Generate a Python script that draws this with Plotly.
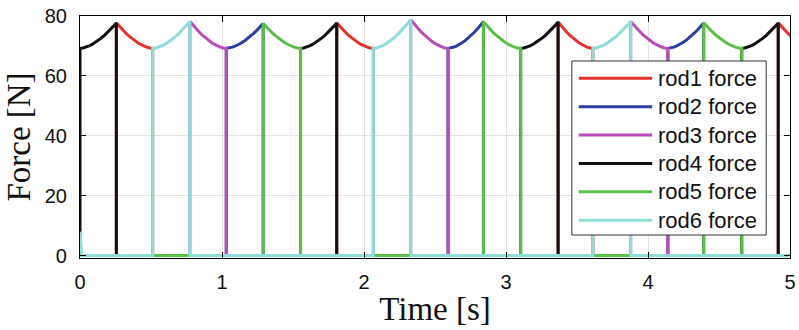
import plotly.graph_objects as go

# ---------------- data ----------------
rod_names = ["rod1 force", "rod2 force", "rod3 force", "rod4 force", "rod5 force", "rod6 force"]
rod_colors = ["#E2322A", "#2B3FA0", "#BA4CB9", "#111111", "#5BBF47", "#8EDDD8"]

# times where the load passes from one rod to the next [s]
seg_bounds = [0.0, 0.256, 0.512, 0.774, 1.030, 1.290, 1.553, 1.808, 2.066, 2.329,
              2.592, 2.841, 3.103, 3.367, 3.612, 3.878, 4.140, 4.392, 4.660, 4.917, 5.175]
# which rod (1..6) carries the load in each interval
seg_rod = [4, 1, 6, 3, 2, 5, 4, 1, 6, 3, 2, 5, 4, 1, 6, 3, 2, 5, 4, 1]
# whether the force rises to a peak or falls from it in each interval
seg_kind = ["rise", "fall"] * 10
# peak forces [N] (one per rise/fall pair)
peak_values = [77.7, 78.2, 77.5, 77.7, 78.8, 78.1, 78.0, 78.2, 77.7, 77.7]
# force at the hand-over between a falling and a rising rod [N]
base_value = 69.2
# shape of a falling interval, as fraction of (peak - base), read at 13 even steps
fall_profile = [1.0, 0.862, 0.733, 0.613, 0.502, 0.400, 0.308, 0.226, 0.154, 0.095, 0.048, 0.015, 0.0]
# short start-up transient of rod6
spike_t = [0.0, 0.012]
spike_v = [8.0, 0.0]
t_end = 5.2

x_ticks = [0, 1, 2, 3, 4, 5]
y_ticks = [0, 20, 40, 60, 80]

# ---------------- build the series ----------------
series = {r: ([], []) for r in range(1, 7)}
for r in range(1, 7):
    if r == 6:
        series[r][0].extend(spike_t)
        series[r][1].extend(spike_v)
    else:
        series[r][0].append(0.0)
        series[r][1].append(0.0)

n = len(fall_profile)
for i, rod in enumerate(seg_rod):
    t0, t1 = seg_bounds[i], seg_bounds[i + 1]
    peak = peak_values[i // 2]
    prof = fall_profile if seg_kind[i] == "fall" else fall_profile[::-1]
    xs, ys = series[rod]
    xs.append(t0); ys.append(0.0)
    for k, f in enumerate(prof):
        xs.append(t0 + (t1 - t0) * k / (n - 1))
        ys.append(base_value + (peak - base_value) * f)
    xs.append(t1); ys.append(0.0)

for r in range(1, 7):
    series[r][0].append(t_end)
    series[r][1].append(0.0)

# ---------------- figure ----------------
W, H = 799, 330
L, R, T, B = 80, 3, 16, 72
pw, ph = W - L - R, H - T - B

def px_x(p):
    return (p - L) / pw

def px_y(p):
    return (H - B - p) / ph

fig = go.Figure()
for r in range(1, 7):
    fig.add_trace(go.Scatter(
        x=series[r][0], y=series[r][1], mode="lines", name=rod_names[r - 1],
        line=dict(color=rod_colors[r - 1], width=3), showlegend=False,
    ))

# legend drawn by hand so the line samples are as long as in the reference
shapes = [dict(type="rect", xref="paper", yref="paper",
               x0=px_x(576), x1=px_x(772), y0=px_y(235), y1=px_y(61),
               line=dict(color="#333333", width=1), fillcolor="white", layer="above")]
annotations = []
row_y = [78.3, 106.7, 135.0, 163.4, 191.8, 220.2]
for i, name in enumerate(rod_names):
    shapes.append(dict(type="line", xref="paper", yref="paper",
                       x0=px_x(583), x1=px_x(657), y0=px_y(row_y[i]), y1=px_y(row_y[i]),
                       line=dict(color=rod_colors[i], width=3), layer="above"))
    annotations.append(dict(xref="paper", yref="paper", x=px_x(661), y=px_y(row_y[i]),
                            text=name, showarrow=False, xanchor="left", yanchor="middle",
                            font=dict(family="Liberation Sans", size=22, color="#111111")))

fig.update_layout(
    width=W, height=H,
    margin=dict(l=L, r=R, t=T, b=B),
    paper_bgcolor="white", plot_bgcolor="white",
    font=dict(family="Liberation Sans", size=20, color="#111111"),
    shapes=shapes, annotations=annotations,
    showlegend=False,
)
fig.update_xaxes(
    range=[0, 5], tickvals=x_ticks, ticks="inside", ticklen=6, tickcolor="black",
    showline=True, linecolor="black", linewidth=1.2, mirror="ticks",
    showgrid=True, gridcolor="#E3E3E3", gridwidth=1, zeroline=False,
    ticklabelstandoff=6, ticklabeloverflow="allow",
    title=dict(text="Time [s]", font=dict(family="Liberation Serif", size=33, color="#111111"), standoff=4),
)
fig.update_yaxes(
    range=[-0.8, 80], tickvals=y_ticks, ticks="inside", ticklen=6, tickcolor="black",
    showline=True, linecolor="black", linewidth=1.2, mirror="ticks",
    showgrid=True, gridcolor="#E3E3E3", gridwidth=1, zeroline=False,
    ticklabelstandoff=8, ticklabeloverflow="allow",
    title=dict(text="Force [N]", font=dict(family="Liberation Serif", size=33, color="#111111"), standoff=4),
)

fig.write_html("out.html")
